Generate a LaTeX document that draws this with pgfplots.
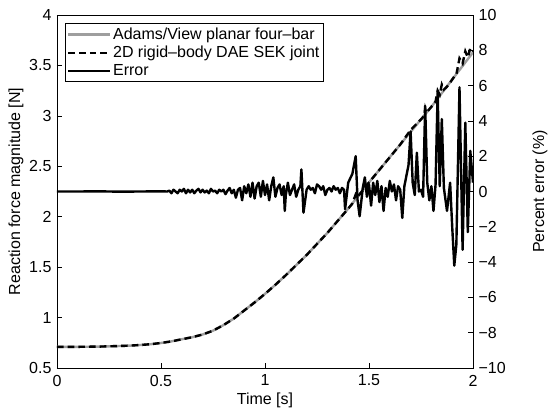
\documentclass[border=0pt]{standalone}
\usepackage{fontspec}
\setmainfont{Liberation Sans}
\usepackage{pgfplots}
\pgfplotsset{compat=1.18}
\definecolor{adamsgray}{rgb}{0.62,0.62,0.62}
\newcommand{\ff}{\fontsize{12}{14}\selectfont}
\begin{document}
\ff
\begin{tikzpicture}
\path[use as bounding box] (-42.75pt,-34.5pt) rectangle (377.25pt,276pt);
\begin{axis}[
  scale only axis, width=312pt, height=264.75pt,
  xmin=0, xmax=2, ymin=0.5, ymax=4,
  xtick={0,0.5,1,1.5,2}, ytick={0.5,1,1.5,2,2.5,3,3.5,4},
  xticklabels={0,0.5,1,1.5,2}, yticklabels={0.5,1,1.5,2,2.5,3,3.5,4},
  xtick pos=bottom, ytick pos=left,
  tick align=inside, major tick length=3.5pt,
  axis line style={line width=0.5pt}, every tick/.style={black,line width=0.5pt},
  ticklabel style={font=\ff},
  xticklabel style={yshift=-1pt},
  label style={font=\ff},
  xlabel={Time [s]}, ylabel={Reaction force magnitude [N]},
  xlabel style={at={(axis description cs:0.5,-0.0907)}, anchor=center},
  ylabel style={at={(axis description cs:-0.0986,0.5)}, anchor=center},
]
\addplot[adamsgray, line width=1.8pt] coordinates {
(0.00,0.710) (0.05,0.710) (0.10,0.710) (0.15,0.711) (0.20,0.712) (0.25,0.715)
(0.30,0.718) (0.35,0.722) (0.40,0.728) (0.45,0.736) (0.50,0.748) (0.55,0.764)
(0.60,0.785) (0.65,0.805) (0.70,0.832) (0.75,0.870) (0.80,0.925) (0.85,0.990)
(0.90,1.070) (0.95,1.150) (1.00,1.235) (1.05,1.325) (1.10,1.420) (1.15,1.520)
(1.20,1.620) (1.25,1.730) (1.30,1.840) (1.35,1.960) (1.40,2.080) (1.45,2.210)
(1.50,2.340) (1.55,2.465) (1.60,2.590) (1.65,2.715) (1.70,2.840) (1.75,2.965)
(1.80,3.090) (1.85,3.225) (1.90,3.360) (1.95,3.495) (2.00,3.630)
};
\addplot[black, line width=1.8pt, dash pattern=on 5pt off 3pt] coordinates {
(0.00,0.710) (0.05,0.710) (0.10,0.710) (0.15,0.711) (0.20,0.712) (0.25,0.715)
(0.30,0.718) (0.35,0.722) (0.40,0.728) (0.45,0.736) (0.50,0.748) (0.55,0.764)
(0.60,0.785) (0.65,0.805) (0.70,0.832) (0.75,0.870) (0.80,0.925) (0.85,0.990)
(0.90,1.070) (0.95,1.150) (1.00,1.235) (1.05,1.325) (1.10,1.420) (1.15,1.520)
(1.20,1.620) (1.25,1.730) (1.30,1.840) (1.35,1.960) (1.40,2.080) (1.42,2.130)
(1.436,2.220) (1.445,2.190) (1.45,2.210) (1.50,2.340) (1.55,2.465) (1.60,2.590)
(1.65,2.715) (1.70,2.860) (1.75,2.965) (1.765,3.000) (1.77,3.070) (1.775,3.030)
(1.80,3.090) (1.82,3.140) (1.83,3.250) (1.84,3.210) (1.85,3.310) (1.86,3.260)
(1.875,3.290) (1.89,3.330) (1.90,3.360) (1.91,3.390) (1.92,3.410) (1.935,3.570)
(1.95,3.520) (1.963,3.640) (1.975,3.580) (1.987,3.670) (2.00,3.640)
};
\end{axis}
\begin{axis}[
  scale only axis, width=312pt, height=264.75pt,
  xmin=0, xmax=2, ymin=-10, ymax=10,
  axis x line=none, axis y line*=right,
  y axis line style={-, line width=0.5pt}, every tick/.style={black,line width=0.5pt},
  tick align=inside, major tick length=3.5pt,
  ytick={-10,-8,-6,-4,-2,0,2,4,6,8,10},
  yticklabels={−10,−8,−6,−4,−2,0,2,4,6,8,10},
  ticklabel style={font=\ff},
  label style={font=\ff},
  ylabel={Percent error (\%)},
  ylabel style={at={(axis description cs:1.161,0.5)}, anchor=center},
  legend image code/.code={\draw[#1] (0pt,0pt) -- (31pt,0pt);},
  legend cell align=left,
  legend style={at={(0.019,0.977)}, anchor=north west, draw=black, line width=0.5pt,
    fill=white, font=\ff, inner sep=1.5pt, row sep=0pt,
    nodes={inner sep=1.6pt}},
]
\addlegendimage{adamsgray, line width=1.8pt}
\addlegendentry{Adams/View planar four–bar}
\addlegendimage{black, line width=1.8pt, dash pattern=on 5pt off 3pt}
\addlegendentry{2D rigid–body DAE SEK joint}
\addplot[black, line width=1.8pt, line join=round] coordinates {
(0.00,0.0) (0.10,0.0) (0.20,0.01) (0.30,-0.01) (0.40,0.0) (0.50,0.01) (0.53,0.0)
(0.54,0.05) (0.55,-0.1) (0.56,0.1) (0.57,0.0) (0.58,-0.1) (0.59,0.1) (0.60,0.0)
(0.61,0.15) (0.62,-0.1) (0.63,0.1) (0.64,-0.05) (0.65,0.1) (0.66,-0.1) (0.67,0.05)
(0.68,0.15) (0.69,-0.05) (0.70,0.1) (0.71,-0.05) (0.72,0.05) (0.73,-0.1) (0.74,0.15)
(0.75,0.0) (0.76,0.05) (0.77,-0.1) (0.78,0.1) (0.79,0.0) (0.80,0.1) (0.81,-0.15)
(0.82,0.05) (0.83,0.2) (0.84,-0.1) (0.85,0.1) (0.86,-0.35) (0.87,0.1) (0.88,0.2)
(0.89,-0.5) (0.90,0.3) (0.91,-0.1) (0.92,0.4) (0.93,-0.3) (0.94,0.5) (0.95,-0.4)
(0.96,0.3) (0.97,0.5) (0.98,-0.3) (0.99,0.6) (1.00,-0.2) (1.01,0.4) (1.02,-0.5)
(1.03,0.3) (1.04,0.8) (1.05,-0.3) (1.06,0.2) (1.07,0.4) (1.08,-0.2) (1.09,0.3)
(1.095,-1.1) (1.10,-0.2) (1.11,0.5) (1.12,-0.2) (1.13,0.1) (1.14,0.4) (1.15,-0.3)
(1.16,0.1) (1.17,0.3) (1.175,1.25) (1.185,-1.2) (1.20,0.1) (1.21,0.3) (1.22,0.1)
(1.23,0.2) (1.24,-0.1) (1.25,0.4) (1.26,0.3) (1.27,0.1) (1.28,0.3) (1.29,-0.2)
(1.30,0.1) (1.31,0.2) (1.32,0.0) (1.33,0.3) (1.34,0.1) (1.35,0.2) (1.36,-0.1)
(1.37,0.2) (1.38,0.1) (1.385,-1.0) (1.40,0.5) (1.42,1.0) (1.436,2.0) (1.445,-0.5)
(1.455,-1.4) (1.47,0.2) (1.48,0.8) (1.49,-0.3) (1.50,0.4) (1.51,-0.8) (1.52,0.5)
(1.53,-0.2) (1.54,0.6) (1.55,-0.6) (1.56,0.3) (1.57,-1.1) (1.58,0.2) (1.59,-0.3)
(1.60,0.6) (1.61,0.0) (1.62,0.4) (1.63,-0.5) (1.64,0.3) (1.65,0.1) (1.66,-1.5)
(1.67,0.3) (1.68,0.9) (1.69,1.5) (1.70,3.4) (1.71,0.5) (1.72,-0.2) (1.73,2.2)
(1.74,0.0) (1.75,0.1) (1.76,-0.3) (1.77,4.85) (1.78,0.5) (1.79,-0.5) (1.80,0.3)
(1.81,-1.1) (1.82,0.4) (1.83,5.6) (1.84,0.3) (1.85,4.1) (1.86,0.2) (1.875,-1.1)
(1.89,0.5) (1.90,-2.0) (1.91,-4.2) (1.92,-3.0) (1.935,5.9) (1.95,-3.3) (1.963,3.9)
(1.975,-2.3) (1.987,2.3) (2.00,0.5)
};
\addlegendentry{Error}
\end{axis}
\end{tikzpicture}
\end{document}
